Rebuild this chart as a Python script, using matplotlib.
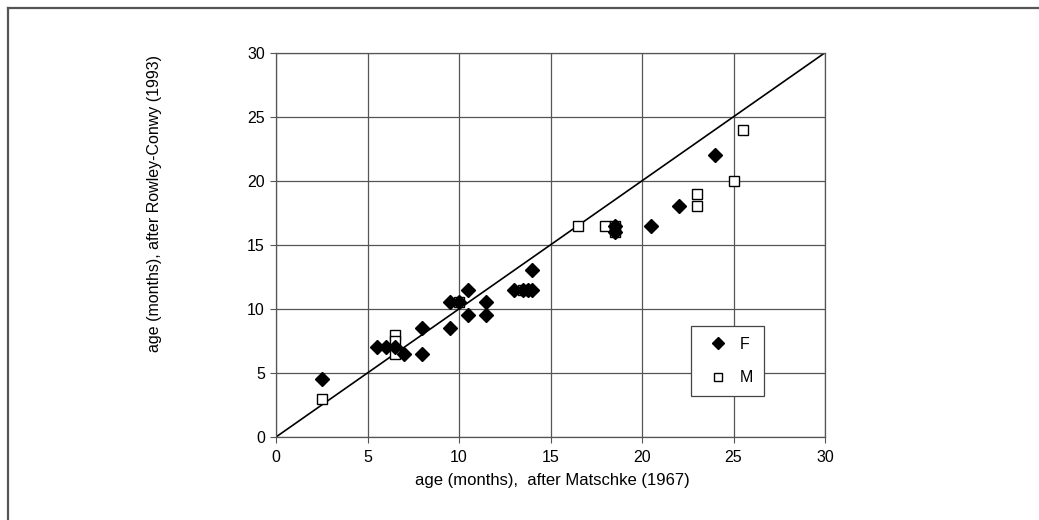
import matplotlib.pyplot as plt
from matplotlib.lines import Line2D

plt.rcParams["font.family"] = ["Liberation Sans", "DejaVu Sans"]

# females (filled diamonds): age after Matschke vs age after Rowley-Conwy
f_x = [2.5, 5.5, 6.0, 6.5, 7.0, 8.0, 8.0, 9.5, 9.5, 10.0, 10.5, 10.5,
       11.5, 11.5, 13.0, 13.5, 13.75, 14.0, 14.0, 18.5, 18.5, 20.5, 22.0, 24.0]
f_y = [4.5, 7.0, 7.0, 7.0, 6.5, 8.5, 6.5, 8.5, 10.5, 10.5, 11.5, 9.5,
       10.5, 9.5, 11.5, 11.5, 11.5, 11.5, 13.0, 16.5, 16.0, 16.5, 18.0, 22.0]

# males (open squares)
m_x = [2.5, 6.5, 6.5, 6.5, 10.0, 13.5, 16.5, 18.0, 18.5, 18.5, 23.0, 23.0, 25.0, 25.5]
m_y = [3.0, 8.0, 7.5, 6.5, 10.5, 11.5, 16.5, 16.5, 16.5, 16.0, 19.0, 18.0, 20.0, 24.0]

line_xy = [0, 30]
ticks = [0, 5, 10, 15, 20, 25, 30]

W, H = 1039, 520
fig = plt.figure(figsize=(W / 100, H / 100), dpi=100)
ax = fig.add_axes([276 / W, 1 - 437 / H, (825 - 276) / W, (437 - 52.7) / H])

fs = 11.5
grid_c = "#555555"
ax.set_xlim(0, 30)
ax.set_ylim(0, 30)
ax.set_xticks(ticks)
ax.set_yticks(ticks)
ax.grid(True, color=grid_c, linewidth=0.9)
ax.set_axisbelow(True)
for sp in ax.spines.values():
    sp.set_color(grid_c)
    sp.set_linewidth(0.9)
ax.tick_params(direction="out", length=4, width=0.8, color=grid_c,
               labelsize=fs, pad=4)
ax.tick_params(axis="x", pad=5)

ax.plot(line_xy, line_xy, color="black", linewidth=1.2, zorder=2)

ax.plot(m_x, m_y, linestyle="none", marker="s", markersize=7.5,
        markerfacecolor="white", markeredgecolor="black",
        markeredgewidth=1.0, label="M", zorder=3)
ax.plot(f_x, f_y, linestyle="none", marker="D", markersize=7.3,
        markerfacecolor="black", markeredgecolor="black", label="F", zorder=4)

handles, labels = ax.get_legend_handles_labels()
leg = ax.legend(handles[::-1], labels[::-1], loc="center",
                bbox_to_anchor=(727.7 / W, 1 - 361 / H),
                bbox_transform=fig.transFigure,
                fancybox=False, framealpha=1, edgecolor="#444444",
                fontsize=fs, borderpad=0.7, labelspacing=1.15,
                handlelength=2.0, handletextpad=0.35, borderaxespad=0,
                markerscale=0.85)
leg.get_frame().set_linewidth(0.9)

fig.text(552 / W, 1 - 480 / H, "age (months),  after Matschke (1967)",
         ha="center", va="center", fontsize=12)
fig.text(155 / W, 1 - 204 / H, "age (months), after Rowley-Conwy (1993)",
         ha="center", va="center", rotation=90, fontsize=fs)

# scanned page frame (top and left edges)
fig.add_artist(Line2D([8 / W, 1], [1 - 8 / H, 1 - 8 / H],
                      transform=fig.transFigure, color="#555555", linewidth=1.6))
fig.add_artist(Line2D([8 / W, 8 / W], [0, 1 - 8 / H],
                      transform=fig.transFigure, color="#555555", linewidth=1.6))

fig.savefig("out.png", dpi=100)
